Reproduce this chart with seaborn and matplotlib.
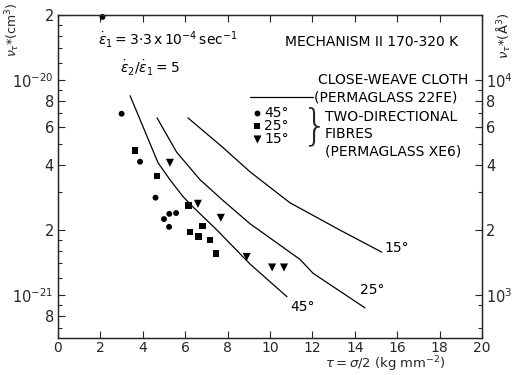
import numpy as np
import pandas as pd
import matplotlib
matplotlib.use('Agg')
import matplotlib.pyplot as plt
import matplotlib.ticker as mticker
import seaborn as sns

# measured points, 45/25/15 degree two-directional fibres
x45 = [2.1, 3.0, 3.87, 4.6, 5.0, 5.25, 5.24, 5.57]
y45 = [1.96e-20, 6.95e-21, 4.16e-21, 2.83e-21, 2.25e-21, 2.38e-21, 2.07e-21, 2.4e-21]
x25 = [3.63, 4.67, 6.15, 6.23, 6.62, 6.81, 7.17, 7.45]
y25 = [4.67e-21, 3.57e-21, 2.6e-21, 1.96e-21, 1.86e-21, 2.09e-21, 1.8e-21, 1.55e-21]
x15 = [5.28, 6.6, 7.68, 8.9, 10.1, 10.66]
y15 = [4.11e-21, 2.65e-21, 2.28e-21, 1.5e-21, 1.34e-21, 1.34e-21]

# close-weave cloth curves
cx45 = [3.40, 4.72, 5.28, 5.90, 6.37, 7.50, 9.06, 10.80]
cy45 = [8.43e-21, 4.11e-21, 3.43e-21, 2.86e-21, 2.56e-21, 2.0e-21, 1.39e-21, 9.8e-22]
cx25 = [4.67, 5.6, 6.70, 7.74, 9.06, 11.42, 12.03, 14.48]
cy25 = [6.65e-21, 4.6e-21, 3.43e-21, 2.77e-21, 2.14e-21, 1.46e-21, 1.26e-21, 8.7e-22]
cx15 = [6.13, 7.74, 9.06, 10.94, 13.30, 15.27]
cy15 = [6.65e-21, 4.88e-21, 3.73e-21, 2.68e-21, 2.0e-21, 1.58e-21]

xticks = [0, 2, 4, 6, 8, 10, 12, 14, 16, 18, 20]
yticks_lab = [8e-22, 1e-21, 2e-21, 4e-21, 6e-21, 8e-21, 1e-20, 2e-20]
ylabels = ['8', r'$10^{-21}$', '2', '4', '6', '8', r'$10^{-20}$', '2']
yticks_minor = [7e-22, 9e-22, 1.2e-21, 1.4e-21, 1.6e-21, 1.8e-21, 3e-21, 5e-21,
                7e-21, 9e-21, 1.2e-20, 1.4e-20, 1.6e-20, 1.8e-20]
rticks_lab = [1e3, 2e3, 4e3, 6e3, 8e3, 1e4]
rlabels = [r'$10^3$', '2', '4', '6', '8', r'$10^4$']

pts = pd.DataFrame({
    'tau': x45 + x25 + x15,
    'v': y45 + y25 + y15,
    'angle': ['45'] * len(x45) + ['25'] * len(x25) + ['15'] * len(x15),
})

sns.set_style('ticks')
plt.rcParams['font.family'] = ['DejaVu Sans']
plt.rcParams['mathtext.fontset'] = 'dejavusans'

fig = plt.figure(figsize=(5.16, 3.75), dpi=100)
ax = fig.add_axes([58 / 516, 1 - 338 / 375, 424 / 516, 323 / 375])

for cx, cy in [(cx45, cy45), (cx25, cy25), (cx15, cy15)]:
    sns.lineplot(x=cx, y=cy, ax=ax, color='black', lw=0.9, sort=False)

sns.scatterplot(data=pts, x='tau', y='v', style='angle', size='angle', ax=ax,
                markers={'45': 'o', '25': 's', '15': 'v'},
                sizes={'45': 18, '25': 24, '15': 34}, color='black',
                linewidth=0, legend=False, clip_on=False)

ax.set_yscale('log')
ax.set_xlim(0, 20)
ax.set_ylim(6.3e-22, 2e-20)
ax.set_xticks(xticks)
ax.set_xticklabels([str(t) for t in xticks])
ax.yaxis.set_major_locator(mticker.FixedLocator(yticks_lab))
ax.yaxis.set_major_formatter(mticker.FixedFormatter(ylabels))
ax.yaxis.set_minor_locator(mticker.FixedLocator(yticks_minor))
ax.yaxis.set_minor_formatter(mticker.NullFormatter())
ax.tick_params(axis='both', which='major', direction='in', length=5, width=0.8,
               labelsize=10.5, top=True, pad=3)
ax.tick_params(axis='x', labelsize=10, pad=2)
ax.tick_params(axis='y', which='minor', direction='in', length=3, width=0.8)
ax.tick_params(axis='y', right=False)
for s in ax.spines.values():
    s.set_linewidth(1.0)

ax2 = ax.twinx()
ax2.set_yscale('log')
ax2.set_ylim(6.3e2, 2e4)
ax2.yaxis.set_major_locator(mticker.FixedLocator(rticks_lab))
ax2.yaxis.set_major_formatter(mticker.FixedFormatter(rlabels))
ax2.yaxis.set_minor_locator(mticker.FixedLocator([7e2, 9e2, 3e3, 5e3, 7e3, 9e3]))
ax2.yaxis.set_minor_formatter(mticker.NullFormatter())
ax2.tick_params(axis='y', which='major', direction='in', length=5, width=0.8,
                labelsize=10.5, pad=3)
ax2.tick_params(axis='y', which='minor', direction='in', length=3, width=0.8)

ax.set_xlabel(r'$\tau=\sigma/2$ (kg mm$^{-2}$)', fontsize=9.5, labelpad=0)
ax.xaxis.set_label_coords(0.771, -0.051)
ax.set_ylabel(r'$\nu_\tau$*(cm$^3$)', fontsize=9)
ax.yaxis.set_label_coords(-0.085, 0.955)
ax2.set_ylabel(r'$\nu_\tau$*($\mathrm{\AA}^3$)', fontsize=9.5)
ax2.yaxis.set_label_coords(1.03, 0.935)

tkw = dict(transform=ax.transAxes, fontsize=10, color='black', va='center', ha='left')
ax.text(0.095, 0.923, r'$\dot{\varepsilon}_1=3{\cdot}3\,\mathrm{x}\,10^{-4}\,\mathrm{sec}^{-1}$', **tkw)
ax.text(0.146, 0.836, r'$\dot{\varepsilon}_2/\dot{\varepsilon}_1=5$', **tkw)
ax.text(0.535, 0.916, 'MECHANISM II 170-320 K', **tkw)
ax.text(0.613, 0.799, 'CLOSE-WEAVE CLOTH', **tkw)
ax.text(0.604, 0.746, '(PERMAGLASS 22FE)', **tkw)
ax.plot([0.453, 0.601], [0.746, 0.746], transform=ax.transAxes, color='black', lw=0.9)
for fy, m, sz, lab in [(0.697, 'o', 18, '45°'), (0.656, 's', 24, '25°'), (0.616, 'v', 34, '15°')]:
    ax.scatter([0.469], [fy], transform=ax.transAxes, marker=m, s=sz, color='black', linewidth=0)
    ax.text(0.486, fy, lab, **tkw)
ax.text(0.576, 0.655, '}', transform=ax.transAxes, fontsize=30, va='center', ha='left',
        fontweight='light')
ax.text(0.630, 0.684, 'TWO-DIRECTIONAL', **tkw)
ax.text(0.630, 0.632, 'FIBRES', **tkw)
ax.text(0.630, 0.576, '(PERMAGLASS XE6)', **tkw)
ax.text(0.771, 0.279, '15°', **tkw)
ax.text(0.712, 0.149, '25°', **tkw)
ax.text(0.547, 0.096, '45°', **tkw)

fig.savefig('out.png', dpi=100)
